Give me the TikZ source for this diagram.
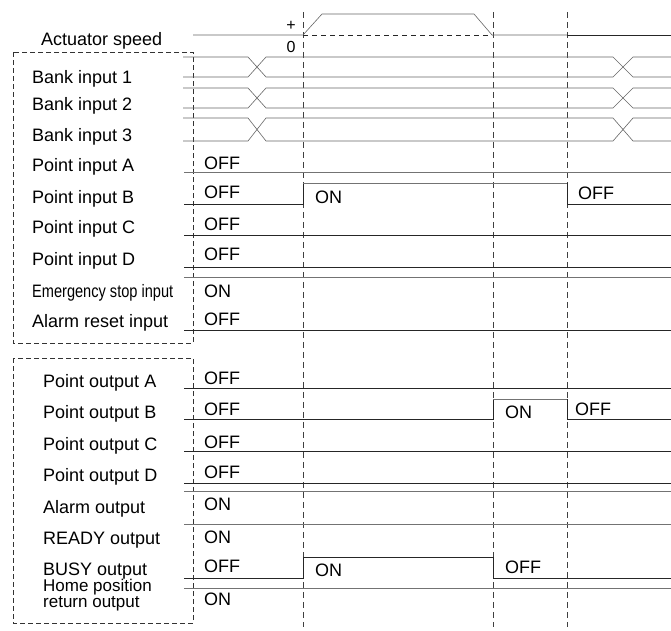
\documentclass[tikz,border=0pt]{standalone}
\usepackage{fontspec}
\setmainfont{Liberation Sans}
\begin{document}
\begin{tikzpicture}[x=1pt,y=-1pt,
  lbl/.style={anchor=base west,inner sep=0pt,font=\fontsize{18}{20}\selectfont},
  st/.style={anchor=base west,inner sep=0pt,font=\fontsize{18}{20}\selectfont},
  sig/.style={line width=0.7pt,black!85},
  hsig/.style={line width=0.7pt,black!55},
  gsig/.style={line width=0.6pt,black!60},
  tline/.style={line width=0.8pt,black!75,dash pattern=on 6pt off 4pt},
  gbox/.style={line width=0.7pt,black!80,dash pattern=on 5pt off 3pt}]
\useasboundingbox (0,0) rectangle (671,630);
% dashed boxes
\draw[gbox] (13,52) rectangle (193,343);
\draw[gbox] (13,358) rectangle (193,623);
% time markers
\draw[tline] (303,12) -- (303,627);
\draw[tline] (493,12) -- (493,627);
\draw[tline] (567,12) -- (567,627);
% actuator speed
\node[lbl] (act) at (41,45) {Actuator speed};
\node[inner sep=0pt,font=\fontsize{16}{18}\selectfont] (plus) at (291,26) {+};
\node[inner sep=0pt,font=\fontsize{16}{18}\selectfont] (zero) at (291,47) {0};
\draw[gsig] (193,35) -- (303,35) -- (322,14) -- (474,14) -- (492,35) -- (567,35);
\draw[sig] (567,35) -- (671,35);
\draw[line width=0.7pt,black!85,dash pattern=on 5pt off 4pt] (303,35) -- (492,35);
% bank inputs
\node[lbl] (b1) at (32,83) {Bank input 1};
\node[lbl] (b2) at (32,110) {Bank input 2};
\node[lbl] (b3) at (32,141) {Bank input 3};
\foreach \t/\b in {57/77,88/108,118/141}{
  \draw[gsig] (183,\t) -- (248,\t) -- (266,\b) -- (613,\b) -- (633,\t) -- (671,\t);
  \draw[gsig] (183,\b) -- (248,\b) -- (266,\t) -- (613,\t) -- (633,\b) -- (671,\b);
}
% point inputs
\node[lbl] (pa) at (32,171.5) {Point input A};
\node[lbl] (pb) at (32,203.5) {Point input B};
\node[lbl] (pc) at (32,233.5) {Point input C};
\node[lbl] (pd) at (32,265) {Point input D};
\node[lbl] (es) at (32,297.5) {\scalebox{0.81}[1]{Emergency stop input}};
\node[lbl] (ar) at (32,327) {Alarm reset input};
\node[st] (paoff) at (204,169) {OFF};
\node[st] (pboff) at (204,198) {OFF};
\node[st] (pbon) at (315,203) {ON};
\node[st] (pboff2) at (578,199) {OFF};
\node[st] (pcoff) at (204,230) {OFF};
\node[st] (pdoff) at (204,260) {OFF};
\node[st] (eson) at (204,297) {ON};
\node[st] (aroff) at (204,325) {OFF};
\draw[hsig] (184,172) -- (671,172);
\draw[sig] (184,204) -- (303,204) -- (303,183);
\draw[hsig] (303,183) -- (567,183);
\draw[sig] (567,183) -- (567,204) -- (671,204);
\draw[sig] (184,235) -- (671,235);
\draw[sig] (184,267) -- (671,267);
\draw[hsig] (184,277) -- (671,277);
\draw[sig] (184,330) -- (671,330);
% outputs
\node[lbl] (oa) at (43,387) {Point output A};
\node[lbl] (ob) at (43,418.5) {Point output B};
\node[lbl] (oc) at (43,450.5) {Point output C};
\node[lbl] (od) at (43,481.5) {Point output D};
\node[lbl] (al) at (43,513.5) {Alarm output};
\node[lbl] (rd) at (43,544) {READY output};
\node[lbl] (bs) at (43,575.5) {BUSY output};
\node[anchor=base west,inner sep=0pt,font=\fontsize{17}{16}\selectfont] (hm1) at (43,591) {Home position};
\node[anchor=base west,inner sep=0pt,font=\fontsize{17}{16}\selectfont] (hm2) at (43,607.5) {return output};
\node[st] (oaoff) at (204,384) {OFF};
\node[st] (oboff) at (204,415) {OFF};
\node[st] (obon) at (505,418) {ON};
\node[st] (oboff2) at (575,415) {OFF};
\node[st] (ocoff) at (204,448) {OFF};
\node[st] (odoff) at (204,478) {OFF};
\node[st] (alon) at (204,510) {ON};
\node[st] (rdon) at (204,543) {ON};
\node[st] (bsoff) at (204,572) {OFF};
\node[st] (bson) at (315,576) {ON};
\node[st] (bsoff2) at (505,573) {OFF};
\node[st] (hmon) at (204,605) {ON};
\draw[sig] (184,388) -- (671,388);
\draw[sig] (184,419) -- (493,419) -- (493,399);
\draw[hsig] (493,399) -- (567,399);
\draw[sig] (567,399) -- (567,419) -- (671,419);
\draw[sig] (184,451) -- (671,451);
\draw[sig] (184,483) -- (671,483);
\draw[hsig] (184,491) -- (671,491);
\draw[hsig] (184,524) -- (671,524);
\draw[sig] (184,578) -- (303,578) -- (303,557) -- (493,557) -- (493,578) -- (671,578);
\draw[hsig] (184,588) -- (671,588);
\end{tikzpicture}
\end{document}
